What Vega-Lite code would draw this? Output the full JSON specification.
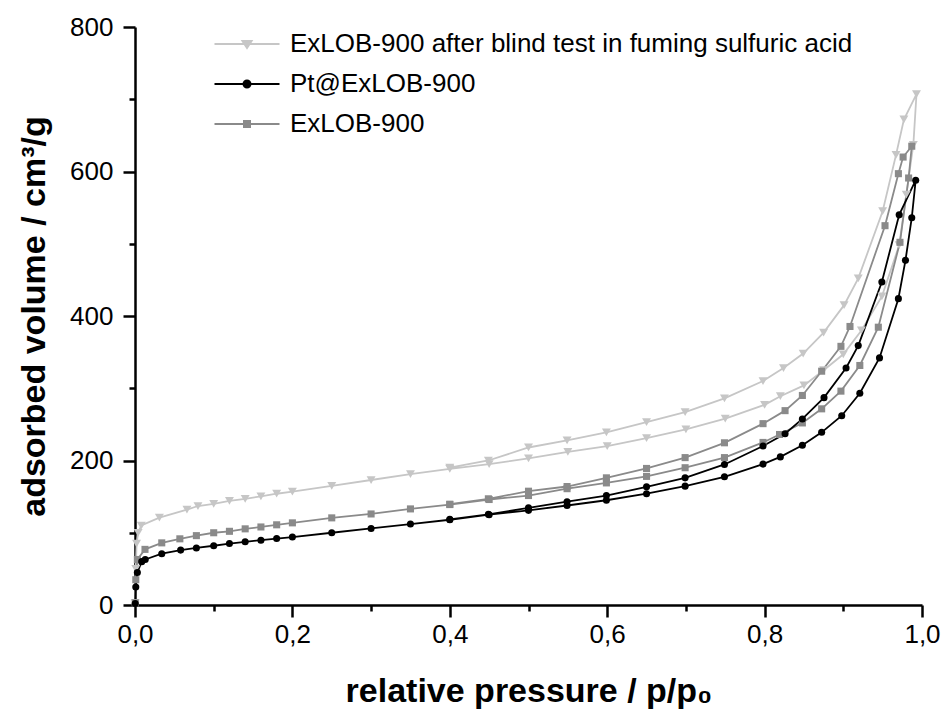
{
  "$schema": "https://vega.github.io/schema/vega-lite/v6.json",
  "width": 787,
  "height": 578,
  "autosize": "none",
  "padding": {"left": 135, "top": 27, "right": 21, "bottom": 108},
  "background": "white",
  "config": {
    "view": {"stroke": null},
    "font": "Liberation Sans",
    "axis": {
      "grid": false,
      "domainColor": "black",
      "domainWidth": 2.5,
      "tickColor": "black",
      "tickWidth": 2.5,
      "labelFont": "Liberation Sans",
      "labelFontSize": 26,
      "labelColor": "black",
      "titleFont": "Liberation Sans",
      "titleFontSize": 34,
      "titleFontWeight": "bold",
      "titleColor": "black"
    }
  },
  "data": {
    "values": [
      {"series": "ExLOB-900 after blind test in fuming sulfuric acid", "i": 1, "x": 0.0003, "y": 3},
      {"series": "ExLOB-900 after blind test in fuming sulfuric acid", "i": 2, "x": 0.001, "y": 50},
      {"series": "ExLOB-900 after blind test in fuming sulfuric acid", "i": 3, "x": 0.002, "y": 85},
      {"series": "ExLOB-900 after blind test in fuming sulfuric acid", "i": 4, "x": 0.004, "y": 100},
      {"series": "ExLOB-900 after blind test in fuming sulfuric acid", "i": 5, "x": 0.008, "y": 110},
      {"series": "ExLOB-900 after blind test in fuming sulfuric acid", "i": 6, "x": 0.031, "y": 121},
      {"series": "ExLOB-900 after blind test in fuming sulfuric acid", "i": 7, "x": 0.066, "y": 132},
      {"series": "ExLOB-900 after blind test in fuming sulfuric acid", "i": 8, "x": 0.08, "y": 137},
      {"series": "ExLOB-900 after blind test in fuming sulfuric acid", "i": 9, "x": 0.1, "y": 140},
      {"series": "ExLOB-900 after blind test in fuming sulfuric acid", "i": 10, "x": 0.12, "y": 144},
      {"series": "ExLOB-900 after blind test in fuming sulfuric acid", "i": 11, "x": 0.14, "y": 147},
      {"series": "ExLOB-900 after blind test in fuming sulfuric acid", "i": 12, "x": 0.16, "y": 150.5},
      {"series": "ExLOB-900 after blind test in fuming sulfuric acid", "i": 13, "x": 0.18, "y": 154},
      {"series": "ExLOB-900 after blind test in fuming sulfuric acid", "i": 14, "x": 0.2, "y": 157},
      {"series": "ExLOB-900 after blind test in fuming sulfuric acid", "i": 15, "x": 0.25, "y": 165},
      {"series": "ExLOB-900 after blind test in fuming sulfuric acid", "i": 16, "x": 0.3, "y": 173},
      {"series": "ExLOB-900 after blind test in fuming sulfuric acid", "i": 17, "x": 0.35, "y": 181},
      {"series": "ExLOB-900 after blind test in fuming sulfuric acid", "i": 18, "x": 0.4, "y": 188.5},
      {"series": "ExLOB-900 after blind test in fuming sulfuric acid", "i": 19, "x": 0.45, "y": 195},
      {"series": "ExLOB-900 after blind test in fuming sulfuric acid", "i": 20, "x": 0.5, "y": 203},
      {"series": "ExLOB-900 after blind test in fuming sulfuric acid", "i": 21, "x": 0.55, "y": 212},
      {"series": "ExLOB-900 after blind test in fuming sulfuric acid", "i": 22, "x": 0.6, "y": 220},
      {"series": "ExLOB-900 after blind test in fuming sulfuric acid", "i": 23, "x": 0.65, "y": 231},
      {"series": "ExLOB-900 after blind test in fuming sulfuric acid", "i": 24, "x": 0.7, "y": 243},
      {"series": "ExLOB-900 after blind test in fuming sulfuric acid", "i": 25, "x": 0.75, "y": 258},
      {"series": "ExLOB-900 after blind test in fuming sulfuric acid", "i": 26, "x": 0.8, "y": 277},
      {"series": "ExLOB-900 after blind test in fuming sulfuric acid", "i": 27, "x": 0.82, "y": 289},
      {"series": "ExLOB-900 after blind test in fuming sulfuric acid", "i": 28, "x": 0.85, "y": 304},
      {"series": "ExLOB-900 after blind test in fuming sulfuric acid", "i": 29, "x": 0.875, "y": 325},
      {"series": "ExLOB-900 after blind test in fuming sulfuric acid", "i": 30, "x": 0.9, "y": 347},
      {"series": "ExLOB-900 after blind test in fuming sulfuric acid", "i": 31, "x": 0.923, "y": 380},
      {"series": "ExLOB-900 after blind test in fuming sulfuric acid", "i": 32, "x": 0.949, "y": 427},
      {"series": "ExLOB-900 after blind test in fuming sulfuric acid", "i": 33, "x": 0.971, "y": 498},
      {"series": "ExLOB-900 after blind test in fuming sulfuric acid", "i": 34, "x": 0.98, "y": 568},
      {"series": "ExLOB-900 after blind test in fuming sulfuric acid", "i": 35, "x": 0.989, "y": 637},
      {"series": "ExLOB-900 after blind test in fuming sulfuric acid", "i": 36, "x": 0.993, "y": 707},
      {"series": "ExLOB-900 after blind test in fuming sulfuric acid", "i": 37, "x": 0.977, "y": 672},
      {"series": "ExLOB-900 after blind test in fuming sulfuric acid", "i": 38, "x": 0.967, "y": 623},
      {"series": "ExLOB-900 after blind test in fuming sulfuric acid", "i": 39, "x": 0.95, "y": 545},
      {"series": "ExLOB-900 after blind test in fuming sulfuric acid", "i": 40, "x": 0.919, "y": 452},
      {"series": "ExLOB-900 after blind test in fuming sulfuric acid", "i": 41, "x": 0.901, "y": 415},
      {"series": "ExLOB-900 after blind test in fuming sulfuric acid", "i": 42, "x": 0.875, "y": 377},
      {"series": "ExLOB-900 after blind test in fuming sulfuric acid", "i": 43, "x": 0.849, "y": 348},
      {"series": "ExLOB-900 after blind test in fuming sulfuric acid", "i": 44, "x": 0.824, "y": 328},
      {"series": "ExLOB-900 after blind test in fuming sulfuric acid", "i": 45, "x": 0.798, "y": 310},
      {"series": "ExLOB-900 after blind test in fuming sulfuric acid", "i": 46, "x": 0.749, "y": 286},
      {"series": "ExLOB-900 after blind test in fuming sulfuric acid", "i": 47, "x": 0.699, "y": 267},
      {"series": "ExLOB-900 after blind test in fuming sulfuric acid", "i": 48, "x": 0.65, "y": 253},
      {"series": "ExLOB-900 after blind test in fuming sulfuric acid", "i": 49, "x": 0.599, "y": 239},
      {"series": "ExLOB-900 after blind test in fuming sulfuric acid", "i": 50, "x": 0.549, "y": 228},
      {"series": "ExLOB-900 after blind test in fuming sulfuric acid", "i": 51, "x": 0.5, "y": 218},
      {"series": "ExLOB-900 after blind test in fuming sulfuric acid", "i": 52, "x": 0.449, "y": 200},
      {"series": "ExLOB-900 after blind test in fuming sulfuric acid", "i": 53, "x": 0.4, "y": 190},

      {"series": "ExLOB-900", "i": 1, "x": 0.0003, "y": 3},
      {"series": "ExLOB-900", "i": 2, "x": 0.001, "y": 35},
      {"series": "ExLOB-900", "i": 3, "x": 0.003, "y": 63},
      {"series": "ExLOB-900", "i": 4, "x": 0.0127, "y": 77},
      {"series": "ExLOB-900", "i": 5, "x": 0.034, "y": 86},
      {"series": "ExLOB-900", "i": 6, "x": 0.057, "y": 91.6},
      {"series": "ExLOB-900", "i": 7, "x": 0.078, "y": 96},
      {"series": "ExLOB-900", "i": 8, "x": 0.1, "y": 100},
      {"series": "ExLOB-900", "i": 9, "x": 0.12, "y": 102},
      {"series": "ExLOB-900", "i": 10, "x": 0.14, "y": 105.4},
      {"series": "ExLOB-900", "i": 11, "x": 0.16, "y": 108},
      {"series": "ExLOB-900", "i": 12, "x": 0.18, "y": 111},
      {"series": "ExLOB-900", "i": 13, "x": 0.2, "y": 113.7},
      {"series": "ExLOB-900", "i": 14, "x": 0.25, "y": 120.6},
      {"series": "ExLOB-900", "i": 15, "x": 0.3, "y": 126},
      {"series": "ExLOB-900", "i": 16, "x": 0.35, "y": 133},
      {"series": "ExLOB-900", "i": 17, "x": 0.4, "y": 139},
      {"series": "ExLOB-900", "i": 18, "x": 0.45, "y": 146},
      {"series": "ExLOB-900", "i": 19, "x": 0.5, "y": 151.5},
      {"series": "ExLOB-900", "i": 20, "x": 0.549, "y": 161},
      {"series": "ExLOB-900", "i": 21, "x": 0.599, "y": 169},
      {"series": "ExLOB-900", "i": 22, "x": 0.65, "y": 178},
      {"series": "ExLOB-900", "i": 23, "x": 0.699, "y": 190},
      {"series": "ExLOB-900", "i": 24, "x": 0.749, "y": 204},
      {"series": "ExLOB-900", "i": 25, "x": 0.798, "y": 225},
      {"series": "ExLOB-900", "i": 26, "x": 0.819, "y": 236},
      {"series": "ExLOB-900", "i": 27, "x": 0.848, "y": 252},
      {"series": "ExLOB-900", "i": 28, "x": 0.8725, "y": 271.5},
      {"series": "ExLOB-900", "i": 29, "x": 0.897, "y": 296},
      {"series": "ExLOB-900", "i": 30, "x": 0.921, "y": 331.5},
      {"series": "ExLOB-900", "i": 31, "x": 0.9445, "y": 384.5},
      {"series": "ExLOB-900", "i": 32, "x": 0.972, "y": 502},
      {"series": "ExLOB-900", "i": 33, "x": 0.983, "y": 591},
      {"series": "ExLOB-900", "i": 34, "x": 0.987, "y": 635},
      {"series": "ExLOB-900", "i": 35, "x": 0.976, "y": 620},
      {"series": "ExLOB-900", "i": 36, "x": 0.97, "y": 597},
      {"series": "ExLOB-900", "i": 37, "x": 0.953, "y": 525},
      {"series": "ExLOB-900", "i": 38, "x": 0.9085, "y": 385.5},
      {"series": "ExLOB-900", "i": 39, "x": 0.897, "y": 358},
      {"series": "ExLOB-900", "i": 40, "x": 0.8725, "y": 323.6},
      {"series": "ExLOB-900", "i": 41, "x": 0.848, "y": 290},
      {"series": "ExLOB-900", "i": 42, "x": 0.826, "y": 269},
      {"series": "ExLOB-900", "i": 43, "x": 0.798, "y": 251},
      {"series": "ExLOB-900", "i": 44, "x": 0.749, "y": 224.5},
      {"series": "ExLOB-900", "i": 45, "x": 0.699, "y": 204},
      {"series": "ExLOB-900", "i": 46, "x": 0.65, "y": 189},
      {"series": "ExLOB-900", "i": 47, "x": 0.599, "y": 176},
      {"series": "ExLOB-900", "i": 48, "x": 0.549, "y": 164},
      {"series": "ExLOB-900", "i": 49, "x": 0.5, "y": 157.5},
      {"series": "ExLOB-900", "i": 50, "x": 0.449, "y": 147},
      {"series": "ExLOB-900", "i": 51, "x": 0.4, "y": 139.5},

      {"series": "Pt@ExLOB-900", "i": 1, "x": 0.0003, "y": 2},
      {"series": "Pt@ExLOB-900", "i": 2, "x": 0.001, "y": 25},
      {"series": "Pt@ExLOB-900", "i": 3, "x": 0.003, "y": 45},
      {"series": "Pt@ExLOB-900", "i": 4, "x": 0.0085, "y": 60},
      {"series": "Pt@ExLOB-900", "i": 5, "x": 0.013, "y": 63},
      {"series": "Pt@ExLOB-900", "i": 6, "x": 0.034, "y": 71},
      {"series": "Pt@ExLOB-900", "i": 7, "x": 0.058, "y": 76},
      {"series": "Pt@ExLOB-900", "i": 8, "x": 0.078, "y": 79},
      {"series": "Pt@ExLOB-900", "i": 9, "x": 0.1, "y": 82},
      {"series": "Pt@ExLOB-900", "i": 10, "x": 0.12, "y": 85},
      {"series": "Pt@ExLOB-900", "i": 11, "x": 0.14, "y": 87.5},
      {"series": "Pt@ExLOB-900", "i": 12, "x": 0.16, "y": 89.7},
      {"series": "Pt@ExLOB-900", "i": 13, "x": 0.18, "y": 92},
      {"series": "Pt@ExLOB-900", "i": 14, "x": 0.2, "y": 94},
      {"series": "Pt@ExLOB-900", "i": 15, "x": 0.25, "y": 100},
      {"series": "Pt@ExLOB-900", "i": 16, "x": 0.3, "y": 106},
      {"series": "Pt@ExLOB-900", "i": 17, "x": 0.35, "y": 112},
      {"series": "Pt@ExLOB-900", "i": 18, "x": 0.4, "y": 118},
      {"series": "Pt@ExLOB-900", "i": 19, "x": 0.45, "y": 125},
      {"series": "Pt@ExLOB-900", "i": 20, "x": 0.5, "y": 131},
      {"series": "Pt@ExLOB-900", "i": 21, "x": 0.549, "y": 137.7},
      {"series": "Pt@ExLOB-900", "i": 22, "x": 0.599, "y": 145},
      {"series": "Pt@ExLOB-900", "i": 23, "x": 0.65, "y": 154},
      {"series": "Pt@ExLOB-900", "i": 24, "x": 0.699, "y": 164.5},
      {"series": "Pt@ExLOB-900", "i": 25, "x": 0.749, "y": 177.4},
      {"series": "Pt@ExLOB-900", "i": 26, "x": 0.798, "y": 195},
      {"series": "Pt@ExLOB-900", "i": 27, "x": 0.82, "y": 205},
      {"series": "Pt@ExLOB-900", "i": 28, "x": 0.848, "y": 221},
      {"series": "Pt@ExLOB-900", "i": 29, "x": 0.8725, "y": 239},
      {"series": "Pt@ExLOB-900", "i": 30, "x": 0.898, "y": 262},
      {"series": "Pt@ExLOB-900", "i": 31, "x": 0.921, "y": 293},
      {"series": "Pt@ExLOB-900", "i": 32, "x": 0.946, "y": 342},
      {"series": "Pt@ExLOB-900", "i": 33, "x": 0.97, "y": 424},
      {"series": "Pt@ExLOB-900", "i": 34, "x": 0.979, "y": 477},
      {"series": "Pt@ExLOB-900", "i": 35, "x": 0.987, "y": 536},
      {"series": "Pt@ExLOB-900", "i": 36, "x": 0.992, "y": 588},
      {"series": "Pt@ExLOB-900", "i": 37, "x": 0.971, "y": 540},
      {"series": "Pt@ExLOB-900", "i": 38, "x": 0.949, "y": 447},
      {"series": "Pt@ExLOB-900", "i": 39, "x": 0.919, "y": 359},
      {"series": "Pt@ExLOB-900", "i": 40, "x": 0.9035, "y": 328},
      {"series": "Pt@ExLOB-900", "i": 41, "x": 0.8755, "y": 287},
      {"series": "Pt@ExLOB-900", "i": 42, "x": 0.848, "y": 257.5},
      {"series": "Pt@ExLOB-900", "i": 43, "x": 0.826, "y": 237},
      {"series": "Pt@ExLOB-900", "i": 44, "x": 0.798, "y": 220},
      {"series": "Pt@ExLOB-900", "i": 45, "x": 0.749, "y": 194.5},
      {"series": "Pt@ExLOB-900", "i": 46, "x": 0.699, "y": 176},
      {"series": "Pt@ExLOB-900", "i": 47, "x": 0.65, "y": 163.6},
      {"series": "Pt@ExLOB-900", "i": 48, "x": 0.599, "y": 151.5},
      {"series": "Pt@ExLOB-900", "i": 49, "x": 0.549, "y": 143},
      {"series": "Pt@ExLOB-900", "i": 50, "x": 0.5, "y": 134.5},
      {"series": "Pt@ExLOB-900", "i": 51, "x": 0.449, "y": 125.5},
      {"series": "Pt@ExLOB-900", "i": 52, "x": 0.4, "y": 118.5}
    ]
  },
  "encoding": {
    "x": {
      "field": "x", "type": "quantitative",
      "scale": {"domain": [0, 1], "nice": false, "zero": false},
      "axis": {
        "title": "relative pressure / p/p₀",
        "values": [0, 0.1, 0.2, 0.3, 0.4, 0.5, 0.6, 0.7, 0.8, 0.9, 1.0],
        "labelExpr": "round(datum.value*10)%2==0 ? replace(format(datum.value,'.1f'),'.',',') : ''",
        "tickSize": {"condition": {"test": "round(datum.value*10)%2==1", "value": 6}, "value": 12},
        "labelPadding": 4,
        "labelFlush": false,
        "labelOverlap": false,
        "titlePadding": 27
      }
    },
    "y": {
      "field": "y", "type": "quantitative",
      "scale": {"domain": [0, 800], "nice": false},
      "axis": {
        "title": "adsorbed volume / cm³/g",
        "values": [0, 100, 200, 300, 400, 500, 600, 700, 800],
        "labelExpr": "datum.value%200==0 ? format(datum.value,'d') : ''",
        "tickSize": {"condition": {"test": "datum.value%200==100", "value": 6}, "value": 12},
        "labelPadding": 10,
        "labelFlush": false,
        "labelOverlap": false,
        "titlePadding": 18
      }
    }
  },
  "layer": [
    {
      "transform": [{"filter": "datum.series === 'ExLOB-900 after blind test in fuming sulfuric acid'"}],
      "mark": {"type": "line", "strokeWidth": 1.8, "color": "#c6c6c6"},
      "encoding": {"order": {"field": "i", "type": "quantitative"}}
    },
    {
      "transform": [{"filter": "datum.series === 'ExLOB-900'"}],
      "mark": {"type": "line", "strokeWidth": 1.8, "color": "#8a8a8a"},
      "encoding": {"order": {"field": "i", "type": "quantitative"}}
    },
    {
      "transform": [{"filter": "datum.series === 'Pt@ExLOB-900'"}],
      "mark": {"type": "line", "strokeWidth": 1.8, "color": "#000000"},
      "encoding": {"order": {"field": "i", "type": "quantitative"}}
    },
    {
      "transform": [{"filter": "datum.series === 'ExLOB-900 after blind test in fuming sulfuric acid'"}],
      "mark": {"type": "point", "shape": "triangle-down", "filled": true, "opacity": 1, "size": 80, "color": "#c6c6c6"}
    },
    {
      "transform": [{"filter": "datum.series === 'ExLOB-900'"}],
      "mark": {"type": "point", "shape": "square", "filled": true, "opacity": 1, "size": 50, "color": "#8a8a8a"}
    },
    {
      "transform": [{"filter": "datum.series === 'Pt@ExLOB-900'"}],
      "mark": {"type": "point", "shape": "circle", "filled": true, "opacity": 1, "size": 50, "color": "#000000"}
    },
    {
      "mark": {"type": "point", "filled": true, "opacity": 0, "strokeWidth": 2},
      "encoding": {
        "fill": {
          "field": "series", "type": "nominal",
          "scale": {
            "domain": ["ExLOB-900 after blind test in fuming sulfuric acid", "Pt@ExLOB-900", "ExLOB-900"],
            "range": ["#c6c6c6", "#000000", "#8a8a8a"]
          },
          "legend": {
            "title": null,
            "orient": "none",
            "legendX": 99,
            "legendY": 4,
            "labelFont": "Liberation Sans",
            "labelFontSize": 26,
            "labelColor": "black",
            "labelLimit": 800,
            "labelOffset": 30,
            "symbolSize": 400,
            "symbolStrokeWidth": 2,
            "symbolOpacity": 1,
            "rowPadding": 14
          }
        },
        "stroke": {
          "field": "series", "type": "nominal",
          "scale": {
            "domain": ["ExLOB-900 after blind test in fuming sulfuric acid", "Pt@ExLOB-900", "ExLOB-900"],
            "range": ["#c6c6c6", "#000000", "#8a8a8a"]
          },
          "legend": {
            "title": null,
            "orient": "none",
            "legendX": 99,
            "legendY": 4,
            "labelFont": "Liberation Sans",
            "labelFontSize": 26,
            "labelColor": "black",
            "labelLimit": 800,
            "labelOffset": 30,
            "symbolSize": 400,
            "symbolStrokeWidth": 2,
            "symbolOpacity": 1,
            "rowPadding": 14
          }
        },
        "shape": {
          "field": "series", "type": "nominal",
          "scale": {
            "domain": ["ExLOB-900 after blind test in fuming sulfuric acid", "Pt@ExLOB-900", "ExLOB-900"],
            "range": [
              "M-3.25,0H3.25M-0.45,-0.3H0.45L0,0.4Z",
              "M-3.25,0H3.25M0.35,0A0.35,0.35 0 1,1 -0.35,0A0.35,0.35 0 1,1 0.35,0Z",
              "M-3.25,0H3.25M-0.3,-0.3H0.3V0.3H-0.3Z"
            ]
          },
          "legend": {
            "title": null,
            "orient": "none",
            "legendX": 99,
            "legendY": 4,
            "labelFont": "Liberation Sans",
            "labelFontSize": 26,
            "labelColor": "black",
            "labelLimit": 800,
            "labelOffset": 30,
            "symbolSize": 400,
            "symbolStrokeWidth": 2,
            "symbolOpacity": 1,
            "rowPadding": 14
          }
        }
      }
    }
  ]
}
